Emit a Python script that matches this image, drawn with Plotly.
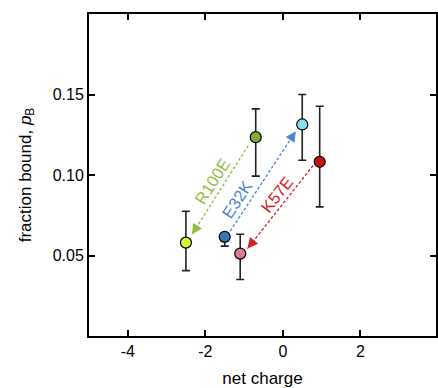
import plotly.graph_objects as go

# data points
charge = [-2.5, -0.7, -1.5, -1.1, 0.5, 0.95]
frac_bound = [0.058, 0.1235, 0.0616, 0.0512, 0.1314, 0.1082]
err_plus = [0.0195, 0.0176, 0.002, 0.012, 0.0186, 0.0345]
err_minus = [0.0174, 0.0242, 0.0058, 0.0161, 0.0222, 0.028]
colors = ["#d6f03c", "#86a93e", "#3b72b6", "#dc7898", "#84e2f2", "#c81212"]

# mutation arrows (from -> to, data coords)
arrow_names = ["R100E", "E32K", "K57E"]
arrow_x0 = [-0.894, -1.358, 0.781]
arrow_y0 = [0.1183, 0.0651, 0.1059]
arrow_x1 = [-2.345, 0.335, -0.912]
arrow_y1 = [0.063, 0.1272, 0.0543]
arrow_colors = ["#94bb48", "#4d86cc", "#d42222"]
label_x = [-1.817, -1.17, -0.14]
label_y = [0.0962, 0.0848, 0.0879]
label_angle = [-57.7, -56.7, -51.6]

fig = go.Figure()

for i in range(3):
    fig.add_trace(go.Scatter(
        x=[arrow_x0[i], arrow_x1[i]], y=[arrow_y0[i], arrow_y1[i]],
        mode="lines", line=dict(color=arrow_colors[i], width=1.3, dash="3px,2px"),
        hoverinfo="skip", showlegend=False))

fig.add_trace(go.Scatter(
    x=charge, y=frac_bound, mode="markers",
    marker=dict(size=11, color=colors, line=dict(color="black", width=1.2)),
    error_y=dict(type="data", symmetric=False, array=err_plus, arrayminus=err_minus,
                 color="#222222", thickness=1.6, width=4),
    showlegend=False))

# px per unit for arrowhead direction
sx = 349 / 8.95
sy = 322 / 0.2
for i in range(3):
    dxp = (arrow_x0[i] - arrow_x1[i]) * sx
    dyp = -(arrow_y0[i] - arrow_y1[i]) * sy
    n = (dxp ** 2 + dyp ** 2) ** 0.5
    fig.add_annotation(x=arrow_x1[i], y=arrow_y1[i], ax=dxp / n * 9, ay=dyp / n * 9,
                       axref="pixel", ayref="pixel", text="", showarrow=True,
                       arrowhead=2, arrowsize=1.5, arrowwidth=1.4,
                       arrowcolor=arrow_colors[i])
    fig.add_annotation(x=label_x[i], y=label_y[i], text=arrow_names[i], showarrow=False,
                       textangle=label_angle[i],
                       font=dict(size=16.5, color=arrow_colors[i],
                                 family="Liberation Sans, Arial, sans-serif"))

axis_common = dict(showline=True, linecolor="black", linewidth=2, mirror="ticks",
                   ticks="inside", ticklen=6, tickwidth=2, tickcolor="black",
                   showgrid=False, zeroline=False,
                   tickfont=dict(size=16, color="black"))

fig.update_layout(
    width=438, height=388,
    margin=dict(l=89, r=0, t=14, b=52),
    plot_bgcolor="white", paper_bgcolor="white",
    font=dict(family="Liberation Sans, Arial, sans-serif", color="black"),
    xaxis=dict(range=[-5, 3.95], tickvals=[-4, -2, 0, 2], ticktext=["-4", "-2", "0", "2"],
               title=dict(text="net charge", font=dict(size=17), standoff=16),
               **axis_common),
    yaxis=dict(range=[0, 0.2], tickvals=[0.05, 0.10, 0.15], ticktext=["0.05", "0.10", "0.15"],
               title=dict(text="fraction bound, <i>p</i><sub>B</sub>", font=dict(size=17),
                          standoff=17),
               **axis_common),
)

fig.write_html("out.html")
